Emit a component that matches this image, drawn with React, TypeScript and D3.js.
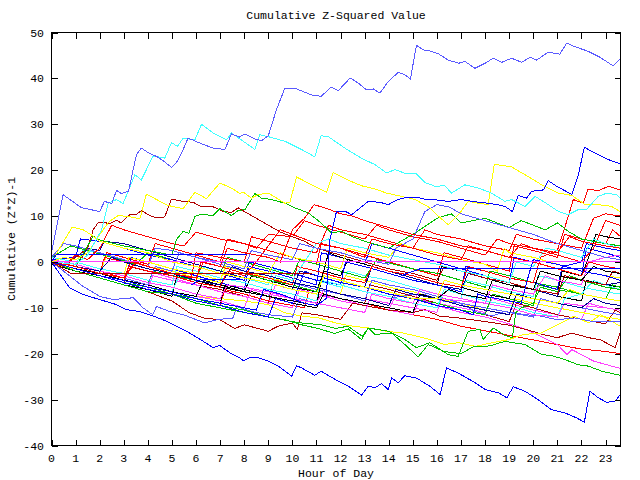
import React from "react";
import * as d3 from "d3";

type P = [number, number];

const xTicks = d3.range(0, 24);
const yTicks = [-40, -30, -20, -10, 0, 10, 20, 30, 40, 50];
const title = "Cumulative Z-Squared Value";
const xTitle = "Hour of Day";
const yTitle = "Cumulative (Z*Z)-1";

// outlier series
const topLightBlue: P[] = [[0,2],[0.48,14.65],[1.25,11.8],[2.0,11.0],[2.2,13.2],[2.5,12.7],[2.7,15.6],[2.9,14.9],[3.2,15.4],[3.36,19.4],[3.53,23.4],[3.73,24.8],[4.08,23.6],[4.36,23.0],[4.63,22.1],[4.98,20.6],[5.19,21.7],[5.4,23.7],[5.67,27.0],[6.16,25.9],[6.71,24.8],[7.2,24.5],[7.47,27.9],[7.8,27.2],[8.03,27.9],[8.44,26.8],[8.72,26.4],[9.0,27.5],[9.34,33.2],[9.69,37.9],[10.17,37.7],[10.8,36.4],[11.2,36.1],[11.6,38.1],[11.9,37.3],[12.4,40.1],[12.73,39.0],[13.08,37.5],[13.36,37.7],[13.63,36.8],[13.98,39.3],[14.39,41.3],[14.67,40.8],[14.9,39.9],[15.15,47.2],[15.43,46.2],[15.7,46.0],[16.05,45.4],[16.47,44.0],[16.9,43.3],[17.16,43.7],[17.58,42.2],[18.0,43.3],[18.34,44.4],[18.69,43.5],[19.1,44.4],[19.52,43.5],[19.86,44.6],[20.14,44.0],[20.62,45.7],[21.1,45.3],[21.39,47.7],[21.73,46.9],[22.28,45.9],[22.77,44.6],[23.32,42.7],[23.6,44.2]];
const topCyan: P[] = [[0,0],[1,-0.5],[1.5,1.5],[2.08,7.0],[2.35,12.8],[2.7,13.6],[2.97,12.7],[3.46,19.0],[3.73,17.9],[4.22,23.1],[4.7,22.6],[4.98,26.0],[5.23,25.2],[5.47,27.0],[5.95,26.6],[6.23,30.0],[6.71,28.1],[7.27,26.6],[7.47,28.1],[7.82,26.8],[8.1,25.8],[8.44,24.5],[8.65,27.7],[9.0,27.3],[9.69,26.3],[10.38,24.5],[10.93,22.9],[11.19,27.5],[11.49,27.3],[12.18,24.8],[12.87,22.6],[13.43,21.2],[13.91,19.4],[14.26,20.1],[14.74,19.2],[15.15,19.2],[15.5,17.3],[15.92,16.5],[16.33,16.6],[16.6,15.0],[17.16,16.8],[17.72,16.1],[18.27,15.0],[18.82,13.2],[19.1,13.6],[19.66,12.1],[20.07,14.3],[20.62,12.5],[21.04,11.0],[21.45,10.3],[21.87,11.4],[22.22,11.5],[22.7,14.3],[23.05,15.0],[23.46,14.6],[23.6,14.0]];
const topYellow: P[] = [[0,0],[0.5,1],[1,0.5],[1.5,2],[2.14,7.0],[2.4,8.8],[2.77,10.1],[3.18,9.9],[3.67,9.4],[3.94,14.8],[4.36,13.6],[4.84,12.3],[5.47,11.6],[5.95,15.2],[6.43,13.8],[6.99,17.2],[7.47,16.1],[7.82,14.9],[7.96,15.2],[8.3,13.9],[8.58,14.7],[9.0,15.0],[9.69,12.8],[9.9,13.0],[10.17,18.5],[10.93,16.5],[11.42,15.2],[11.69,19.5],[12.32,17.8],[12.87,16.6],[13.43,15.9],[13.91,15.0],[14.53,14.3],[15.09,13.6],[15.71,11.8],[15.99,10.3],[16.47,8.1],[16.9,10.3],[17.3,13.2],[17.72,12.8],[18.13,12.5],[18.38,21.3],[19.1,20.7],[19.66,19.0],[20.35,16.8],[21.04,15.0],[21.6,14.5],[22.15,12.5],[22.7,12.5],[23.25,12.1],[23.6,11.0]];
const riseBlue: P[] = [[0,0],[1,-1.5],[2,-3],[3,-4],[4,-5.5],[5,-6.5],[6,-8],[7,-9],[8,-10],[8.5,-10.5],[8.8,-6],[9.5,-7],[10,-8],[10.5,-9],[11,-9.5],[11.4,-8],[11.56,4.9],[11.83,11.0],[12.2,11.0],[12.46,10.3],[13.15,13.2],[13.63,13.0],[13.98,12.5],[14.39,13.6],[14.74,14.1],[15.15,14.1],[15.57,13.6],[16.0,13.5],[16.47,13.2],[17.02,13.6],[17.58,13.1],[18.13,12.8],[18.48,12.5],[18.82,12.1],[19.13,11.0],[19.38,14.5],[19.72,13.9],[19.93,15.4],[20.42,15.7],[20.62,17.7],[20.97,16.5],[21.6,14.7],[21.87,19.0],[22.12,25.0],[22.56,23.7],[23.12,22.3],[23.6,21.4]];
const bottomBlue: P[] = [[0,0],[0.76,-5.7],[1.31,-7.1],[2.0,-8.2],[2.7,-9.3],[3.11,-10.4],[3.67,-10.8],[4.22,-11.8],[4.63,-12.6],[5.19,-14.0],[5.74,-15.5],[6.3,-17.3],[6.71,-18.7],[6.99,-18.2],[7.4,-19.8],[7.82,-20.9],[7.96,-21.5],[8.23,-20.9],[8.58,-20.9],[9.0,-21.6],[9.41,-22.7],[9.97,-24.9],[10.17,-22.6],[10.38,-23.1],[10.93,-24.7],[11.19,-23.8],[11.74,-25.5],[12.32,-27.1],[12.87,-29.0],[13.15,-27.1],[13.43,-27.4],[13.7,-26.5],[13.98,-27.8],[14.12,-25.3],[14.39,-26.3],[14.67,-24.8],[15.15,-25.3],[15.71,-27.1],[16.13,-28.9],[16.4,-23.1],[16.88,-24.2],[17.58,-26.3],[18.0,-27.8],[18.55,-28.5],[18.9,-29.6],[19.17,-27.2],[19.66,-28.2],[20.2,-30.0],[20.76,-32.2],[21.32,-32.9],[21.8,-34.0],[22.12,-34.9],[22.35,-28.2],[22.7,-29.6],[23.05,-30.6],[23.4,-30.3],[23.6,-29.0]];

// bundle series
const red1: P[] = [[0,0.5],[1,-1],[2,-2.5],[2.3,2],[3,1],[4,-0.5],[4.3,4],[5,3],[6,1.5],[7,0],[7.3,5],[8,4],[9,2.5],[10,1],[11,-0.5],[11.2,4],[12,3],[13,1.5],[14,0],[15,-1.5],[16,-3],[16.3,2],[17,1],[18,-0.5],[19,-2],[19.2,3.5],[20,2.5],[21,1],[21.3,6],[22,5],[23,4],[23.3,7],[23.6,5.6]];
const green1: P[] = [[0,1],[0.8,3.5],[1.5,2.5],[2.5,1],[3.5,-0.5],[4,2],[5,0.5],[6,-1],[7,-2.5],[7.3,1],[8,0],[9,-1.5],[10,-3],[10.3,0.5],[11,-0.5],[12,-2],[13,-3.5],[13.5,0.5],[14,-0.2],[15,-1.5],[16,-2.5],[17,-4],[18,-5.5],[18.2,-2],[19,-3],[20,-4.5],[21,-5.5],[22,-7],[23,-8],[23.6,-8.5]];
const blue1: P[] = [[0,-0.5],[1,-2],[2,-3.5],[3,-5],[3.3,1],[4,0],[5,-1.5],[6,-3],[7,-4.5],[8,-6],[8.2,-1],[9,-2],[10,-3.5],[11,-5],[11.2,2],[12,1],[13,-0.5],[13.3,4],[14,3],[15,1.5],[16,0],[17,-1.5],[18,-3],[19,-4.5],[19.2,1],[20,0],[21,-1.5],[22,-3],[22.2,3],[23,2],[23.6,1]];
const magenta1: P[] = [[0,0],[1,-1.5],[2,-3],[3,-4.5],[4,-6],[4.2,-3],[5,-4],[6,-5],[7,-6.5],[8,-7.5],[9,-9],[9.3,-5],[10,-6],[11,-7],[12,-8.5],[13,-9.5],[14,-10.5],[14.3,-7],[15,-8],[16,-9],[17,-10],[18,-11],[18.3,-8],[19,-9],[20,-10.5],[21,-11.5],[22,-12.5],[22.3,-9],[23,-10],[23.6,-10.5]];
const cyan1: P[] = [[0,0.5],[1,-0.5],[1.3,2.5],[2,2],[3,0.5],[4,-1],[5,-2.5],[6,-4],[6.2,-1],[7,-2],[8,-3.5],[9,-5],[9.2,-1.5],[10,-2.5],[11,-4],[12,-5.5],[12.3,-2],[13,-3],[14,-4],[15,-5.5],[16,-7],[17,-8],[17.2,-4],[18,-5],[19,-6.5],[20,-7.5],[20.2,-3],[21,-4],[22,-5.5],[23,-6.5],[23.6,-7]];
const darkred1: P[] = [[0,0],[1,-1.5],[2,-3],[3,-4.5],[3.2,-1],[4,-2],[5,-3.5],[6,-5],[7,-6],[8,-7.5],[9,-9],[9.2,-4],[10,-5],[11,-6.5],[12,-8],[13,-9],[13.2,-5],[14,-6],[15,-7.5],[16,-9],[17,-10.5],[18,-11.5],[19,-13],[19.3,-9],[20,-10],[21,-11.5],[22,-12.5],[23,-13.5],[23.4,-10.5],[23.6,-11]];
const yellow1: P[] = [[0,-0.5],[1,-1.5],[2,-2.5],[2.3,1.5],[3,0.5],[4,-1],[5,-2],[6,-3.5],[7,-4.5],[7.2,-1],[8,-2],[9,-3.5],[10,-4.5],[11,-6],[12,-7],[12.2,-3],[13,-4],[14,-5.5],[15,-6.5],[16,-8],[17,-9],[18,-10.5],[19,-11.5],[19.2,-8],[20,-9],[21,-10],[22,-11],[23,-12],[23.6,-12.5]];
const black1: P[] = [[0,-0.5],[1,-2],[2,-3.5],[3,-5],[4,-6],[5,-7.5],[5.2,-3],[6,-4],[7,-5.5],[8,-6.5],[8.3,-3],[9,-4],[10,-5.5],[11,-6.5],[11.3,-2],[12,-3],[12.3,0.5],[13,-0.5],[14,-2],[15,-3.5],[16,-5],[16.2,-1],[17,-2],[18,-3.5],[19,-5],[20,-6],[21,-7.5],[22,-8.5],[22.2,-4],[23,-5],[23.6,-5.5]];
const lightblue1: P[] = [[0,1],[0.5,4],[1,3.5],[2,2],[3,0.5],[4,-1],[4.3,3],[5,2.5],[6,1],[7,-0.5],[8,-2],[9,-3],[10,-4.5],[11,-6],[12,-7],[13,-8.5],[13.3,-4],[14,-5],[15,-6],[16,-7.5],[17,-9],[18,-10],[19,-11],[20,-12],[20.3,-8],[21,-9],[22,-10],[23,-11],[23.6,-11.5]];
const darkblue1: P[] = [[0,0],[1,-1],[1.5,3],[2,2.5],[2.2,4.5],[3,4],[4,2.5],[5,1],[6,-0.5],[7,-2],[8,-3.5],[9,-4.5],[10,-6],[10.3,-2],[11,-3],[12,-4.5],[13,-5.5],[13.3,-1],[14,-2],[15,-3.5],[16,-5],[17,-6],[17.3,-2.5],[18,-3.5],[19,-5],[20,-6],[21,-7.5],[21.3,-3],[22,-4],[23,-5],[23.6,-4.5]];
const red2: P[] = [[0,0],[1,-1.5],[2,-3],[3,-4],[4,-5.5],[5,-7],[6,-8],[7,-9.5],[7.2,-6],[8,-7],[9,-8.5],[10,-9.5],[10.5,-10],[10.7,-6],[11,-6.5],[12,-8],[13,-9],[14,-10.5],[15,-11.5],[16,-12.5],[17,-14],[18,-15],[19,-16],[20,-17],[21,-18],[22,-19],[23,-19.5],[23.6,-20]];
const green2: P[] = [[0,0.5],[1,-0.5],[2,-2],[3,-3.5],[4,-5],[4.2,-2],[5,-3],[6,-4],[6.3,0],[7,-1],[8,-2.5],[9,-4],[10,-5],[11,-6.5],[11.3,-3],[12,-4],[13,-5.5],[14,-6.5],[15,-8],[16,-9],[17,-10.5],[18,-11.5],[18.3,-7],[19,-8],[20,-9.5],[20.2,-5],[21,-6],[22,-7],[23,-8],[23.3,-5],[23.6,-5.5]];
const blue2: P[] = [[0,0.5],[1,1],[1.2,5],[2,4.5],[3,3],[4,1.5],[5,0.5],[6,-1],[7,-2.5],[8,-4],[8.2,0],[9,-1],[10,-2.5],[11,-4],[12,-5],[12.2,0],[13,-1],[14,-2.5],[15,-4],[16,-5],[17,-6.5],[17.2,-1],[18,-2],[19,-3.5],[20,-4.5],[21,-6],[21.2,-1],[22,0],[22.2,4],[23,3],[23.6,2.5]];
const magenta2: P[] = [[0,0],[1,-1],[2,-2.5],[3,-4],[3.3,-1],[4,-2],[5,-3.5],[6,-5],[7,-6.5],[8,-7.5],[9,-9],[10,-10],[10.3,-6],[11,-7],[12,-8],[13,-9.5],[14,-10.5],[15,-11.5],[15.3,-8],[16,-9.5],[17,-11],[18,-12],[19,-13.5],[19.7,-14.7],[20.3,-16.2],[21,-18],[21.4,-20.2],[21.6,-19.1],[22.5,-21.6],[23.6,-23.2]];
const cyan2: P[] = [[0,1],[1,0],[2,-1.5],[3,-2.5],[4,-4],[5,-5],[5.2,-1],[6,-2],[7,-3.5],[8,-4.5],[9,-6],[10,-7],[11,-8.5],[11.2,-4],[12,-5],[13,-6.5],[14,-7.5],[15,-9],[16,-10],[16.3,-6],[17,-7],[18,-8.5],[19,-9.5],[20,-11],[21,-12],[21.3,-8],[22,-7],[22.5,-4],[23,-5],[23.6,-6]];
const darkred2: P[] = [[0,0],[1,-2],[2,-3.5],[3,-5],[4,-6.5],[5,-8.5],[5.7,-11],[6.3,-12.2],[7,-12.6],[7.6,-14.5],[8,-13.7],[9,-15.1],[9.4,-14],[10,-13.3],[10.2,-14.7],[10.4,-11.1],[11,-11.5],[12,-12.5],[12.5,-9],[13,-9.5],[14,-10.5],[15,-11],[15.5,-10.4],[16.1,-11.8],[16.9,-12.2],[18,-13],[18.9,-13.7],[19.7,-14.7],[20.4,-15.8],[21,-16.5],[21.6,-15.5],[22.3,-16.5],[22.8,-17],[23.4,-18.7],[23.6,-15.5]];
const yellow2: P[] = [[0,0],[1,-1.5],[2,-2.5],[3,-4],[4,-5],[5,-6.5],[6,-7.5],[7,-8],[8,-8.5],[9,-9.3],[9.7,-11.1],[10.4,-11.8],[11.1,-12.2],[11.8,-13.3],[12.5,-14],[13.2,-14.4],[13.9,-15.1],[14.6,-15.5],[15.2,-16.2],[15.7,-16.9],[16.3,-18],[16.9,-17.6],[17.6,-18.4],[18.3,-17.6],[19,-16.9],[19.6,-15.8],[20.3,-15.5],[21,-13.7],[21.7,-11.8],[22.3,-13.3],[22.8,-11.5],[23.6,-14]];
const black2: P[] = [[0,-0.5],[1,-2],[2,-3],[3,-4.5],[4,-5.5],[5,-7],[6,-8],[7,-9],[7.2,-5],[8,-6],[9,-7.5],[10,-8.5],[11,-9.5],[11.2,-4],[11.5,2],[12,1],[13,-0.5],[14,-2],[15,-3],[16,-4.5],[17,-5.5],[18,-7],[19,-8],[19.2,-5],[20,-6],[21,-7],[21.2,-2],[22,-3],[22.3,1],[22.6,6],[23,5.5],[23.6,5]];
const lightblue2: P[] = [[0,0],[0.5,-2],[1.3,-5.3],[2,-7.5],[2.56,-8.2],[3.4,-7.8],[3.8,-10],[4.2,-11.5],[4.36,-9.7],[4.9,-10.8],[5.47,-11.5],[6.37,-13.3],[6.85,-12.6],[7.54,-12.2],[7.7,-9.7],[8.3,-10.8],[9,-11.5],[10,-12],[10.3,-8],[11,-9],[12,-10],[13,-11],[13.3,-7],[14,-8],[15,-7],[15.5,-7.1],[16.3,-8.6],[16.9,-8.9],[17.6,-10.8],[18.3,-11.8],[18.8,-10.8],[19.7,-11.5],[20.3,-11.8],[21,-12.6],[21.7,-12.2],[22.4,-12.9],[23.6,-12.9]];
const red3: P[] = [[0,0],[1,-1],[2,-2.5],[2.2,1],[3,0],[4,-1.5],[5,-2.5],[6,-4],[6.2,0],[7,-1],[8,-2.5],[9,-3.5],[10,-5],[10.2,-1],[11,-2],[12,-3.5],[13,-4.5],[13.3,-1],[14,-2],[15,-3],[16,-4.5],[17,-5.5],[17.3,-1],[18,-2],[19,-3.5],[20,-4.5],[20.3,1],[21,2.5],[21.3,7.4],[21.45,9.9],[21.66,13.6],[22.07,12.8],[22.28,15.9],[22.7,15.5],[23.12,16.5],[23.6,15.7]];
const green3: P[] = [[0,0],[1,-1.5],[2,-3],[3,-4.5],[4,-5.5],[5,-7],[6,-8],[7,-9.5],[8,-10.5],[9,-12],[10,-13],[10.4,-13.3],[11.2,-13.7],[11.8,-14.5],[12.3,-14],[12.9,-16.2],[13.15,-14.4],[14,-15.1],[14.67,-16.9],[15.15,-18.7],[15.7,-17.6],[16.47,-20.2],[16.88,-20.6],[17.3,-15.1],[17.78,-14.7],[17.92,-16.9],[18.34,-14.4],[18.82,-16],[19.13,-16.5],[19.27,-11.1],[19.5,-10],[20,-9],[20.3,-5.5],[21,-6.5],[21.5,-3],[22,-4],[23,-5.5],[23.6,-6]];
const green4: P[] = [[0,0],[1,-2],[2,-3.5],[3,-5],[4,-6.5],[5,-7],[6,-9],[7,-10],[8,-11],[9,-12],[9.69,-12.6],[10.38,-13.7],[11.07,-14.5],[11.76,-15.6],[12.32,-14.6],[12.87,-16.9],[13.15,-14.4],[13.43,-15.8],[14.12,-15.5],[14.67,-18],[15.22,-20.7],[15.64,-18],[16.3,-19.5],[17,-20],[17.5,-18.5],[18.2,-18.3],[18.82,-17.3],[19.66,-18],[20.35,-20.2],[20.76,-20.4],[21.32,-21.3],[21.87,-22.4],[22.28,-22.7],[22.84,-23.8],[23.6,-24.7]];
const red4: P[] = [[0,0],[0.5,-1],[1,1.5],[1.5,0.5],[2,3],[2.5,8],[3,7],[4,5.5],[5,4],[5.5,3.5],[6,6.5],[7,5],[8,4],[8.5,3],[9,6],[10,5.5],[10.5,9],[11,8],[12,6.5],[13,5],[13.5,8],[14,7],[15,5.5],[16,4.5],[17,3],[18,1.5],[18.5,5],[19,4],[20,3],[21,1.5],[22,0],[22.5,3],[23,9],[23.6,8]];
const red5: P[] = [[0,0],[1,-1],[2,-2],[3,-3.5],[3.3,0],[4,-1],[5,-2.5],[5.8,-3.5],[6,2],[7,1],[8,0],[8.3,5.5],[9,4.5],[10,3],[11,2],[11.5,8],[12,7],[13,6],[14,4.5],[15,3],[15.5,7],[16,6],[17,5],[18,3.5],[19,2.5],[19.3,6],[20,5],[21,4],[22,3],[22.5,9.5],[23,10.5],[23.6,10]];
const darkred3: P[] = [[0,0],[0.5,-1],[1,1],[1.5,3],[1.73,7],[1.94,8.6],[2.21,8.6],[2.4,8.3],[2.7,9.1],[2.88,8.5],[3.25,10.3],[3.5,10.3],[3.73,11.2],[4.08,10.1],[4.36,9.6],[4.7,9.8],[4.98,13.7],[5.47,13.2],[5.88,13],[6.23,12],[6.71,12],[7.13,11],[7.47,10.8],[7.75,11.8],[8,11],[8.5,9.5],[9,8],[9.5,6.5],[10,5.5],[10.5,4.5],[11,3],[12,1.5],[13,0],[14,-1.5],[15,-2.5],[16,-4],[16.3,-1],[17,-2],[18,-3.5],[19,-4.5],[20,-6],[21,-7],[21.3,-3],[22,-4],[23,-5],[23.3,-2],[23.6,-2.5]];
const green5: P[] = [[0,0],[1,-1],[1.73,5.6],[2,4.8],[3,3.5],[4,2.5],[5,1.5],[5.19,4.9],[5.47,6.7],[5.7,6.2],[5.95,9.9],[6.23,10.4],[6.71,10.1],[6.99,11.6],[7.47,10.1],[7.75,11.2],[8.03,11.4],[8.44,14.9],[8.72,13.9],[9.13,13.6],[9.69,12.8],[10.1,11.8],[10.66,10.7],[11.19,8.5],[11.63,6.3],[12.03,6.7],[12.5,5.5],[13,4.5],[14,3],[15,6],[16,9.5],[16.6,10.5],[17,8.5],[18,9.5],[18.5,8.5],[19,7.5],[19.5,9],[20,8],[20.5,7],[21,8.5],[21.5,6.5],[22,5],[23,4],[23.6,3.5]];
const cyan3: P[] = [[0,0],[1,-1.5],[2,-3],[3,-4],[4,-5.5],[5,-6.5],[5.3,-3],[6,-4],[7,-5],[8,-6.5],[9,-7.5],[9.3,-3],[10,-4],[10.5,0],[11,4],[11.5,5],[12,4],[13,3],[14,1.5],[15,0.5],[16,-0.5],[17,-2],[18,-3],[19,-4.5],[19.3,0],[20,-1],[20.5,3],[21,2.5],[22,1],[22.5,5],[23,4],[23.6,3]];
const yellow3: P[] = [[0,0],[1,-0.5],[2,-2],[3,-3],[3.2,1],[4,0],[5,-1.5],[6,-2.5],[7,-4],[7.3,0],[8,-1],[9,-2.5],[9.5,2],[10,1],[11,0],[12,-1.5],[12.3,3],[13,2],[14,1],[14.5,4],[15,3],[16,2],[17,0.5],[18,-0.5],[18.5,-2],[18.8,3],[19,2],[20,1],[21,-0.5],[22,-2],[23,-3],[23.6,-3.5]];
const magenta3: P[] = [[0,0.5],[1,-0.5],[2,-2],[3,-3],[4,-4.5],[5,-5.5],[6,-7],[7,-8],[7.3,-5],[8,-5.5],[9,-6.5],[10,-8],[11,-9],[11.3,-6],[12,-7],[13,-8],[14,-9],[15,-10],[16,-11],[16.2,-8],[17,-8.5],[18,-9],[19,-10],[20,-11.5],[21,-12],[21.3,-9],[22,-9.5],[23,-10],[23.6,-10.5]];
const magenta4: P[] = [[0,0],[1,-1.5],[2,-2.5],[3,-4],[4,-5],[5,-6.5],[6,-7.5],[7,-8.5],[8,-10],[8.3,-6],[9,-7],[10,-8],[11,-9],[12,-10],[13,-11],[13.3,-7],[14,-8],[15,-9],[15.3,-6],[16,-7],[17,-8],[18,-9],[18.3,-5],[19,-6],[20,-7],[20.5,-3],[21,-4],[22,-5],[22.3,0],[23,1],[23.6,1.5]];
const black3: P[] = [[0,0],[1,-1.5],[2,-2.5],[3,-4],[4,-5],[5,-6.5],[6,-7.5],[6.3,-4],[7,-5],[8,-6.5],[9,-7.5],[10,-9],[11,-10],[11.3,-7],[12,-8],[13,-9],[14,-10],[15,-11],[15.3,-7],[16,-8],[16.5,-6],[17,-7],[18,-8],[18.3,-4],[19,-5],[20,-6],[20.3,-2],[21,-3],[22,-4],[22.5,-1],[23,-2],[23.6,-2.5]];
const blue3: P[] = [[0,0],[1,-1.5],[2,-3],[3,-4.5],[4,-6],[5,-7],[6,-8.5],[7,-9.5],[8,-11],[9,-12],[9.3,-8],[10,-9],[10.5,-2],[11,-3],[12,-4.5],[13,-5.5],[14,-7],[15,-8],[16,-9.5],[17,-10.5],[17.5,-11.5],[17.7,-7],[18,-7.5],[19,-8.5],[19.5,-9],[19.8,-3],[20,0.5],[21,-0.5],[22,-2],[23,-3],[23.6,-4]];
const lightblue3: P[] = [[0,0],[1,-1],[2,-2.5],[3,-3.5],[4,-5],[4.3,-1],[5,-2],[5.3,2],[6,1],[7,0],[8,-1.5],[8.3,2.5],[9,1.5],[10,0.5],[10.3,4],[11,3],[12,2],[13,0.5],[14,-0.5],[14.3,3],[15,5],[15.5,11],[16,12.5],[16.5,12],[17,10.5],[18,9],[19,7.5],[20,6],[20.5,5],[21,4],[22,2.5],[23,1],[23.6,0.5]];
const darkblue2: P[] = [[0,0],[1,-1],[2,-2],[2.5,1],[3,0],[4,-1.5],[5,-2.5],[6,-4],[7,-5],[7.5,-1],[8,-2],[9,-3],[10,-4.5],[11,-5.5],[12,-7],[13,-8],[14,-9.5],[14.3,-6],[15,-7],[16,-8],[17,-9.5],[18,-10.5],[19,-11.5],[19.3,-7],[20,-8],[21,-9],[22,-10],[22.5,-8],[23,-9],[23.6,-9.5]];
const red6: P[] = [[0,0],[1,-1.5],[2,-3],[3,-4],[3.3,-1],[4,-2],[5,-3],[6,-4.5],[7,-5.5],[7.3,-2],[8,-3],[8.5,0],[9,3.5],[9.5,7],[10,6],[10.5,5],[11,4],[12,3],[12.5,2],[13,1],[13.3,5],[14,4],[15,3],[16,1.5],[17,0.5],[17.3,3.5],[18,2.5],[19,1],[20,0],[21,-1.5],[22,-3],[22.3,0],[23,-1],[23.6,-1.5]];
const red7: P[] = [[0,0],[1,-1],[2,-2.5],[3,-3.5],[3.5,0],[4,-1],[5,-2.5],[6,-3.5],[6.3,0],[7,-1],[7.3,3],[8,2],[9,1],[9.5,0],[10,7],[10.5,9.5],[10.9,12.5],[11.5,11.5],[12,10.5],[12.5,10],[13,9],[14,7.5],[15,6],[16,5],[17,3.5],[18,2.5],[19,1],[19.5,4],[20,3],[21,2],[21.5,5.5],[22,4.5],[23,3.5],[23.6,3]];
const yellow4: P[] = [[0,0],[0.86,7.6],[1.31,7],[1.66,5.9],[2,4.5],[3,3],[4,2],[4.5,1],[5,0],[6,-1],[7,-2.5],[8,-3.5],[9,-4.5],[10,-6],[11,-7],[11.3,-3],[12,-4],[13,-5.5],[14,-6.5],[15,-8],[16,-8],[16.3,-4],[17,-5],[18,-6],[19,-7],[20,-8],[21,-9],[21.5,-6],[22,-7],[23,-8],[23.6,-8.5]];

// flat (constant) series
const flatBlue1: P[] = [[0,0],[0.2,1.6],[8.1,1.6]];
const flatMagenta: P[] = [[0,0],[23.6,0]];
const flatBlue2: P[] = [[0,0.2],[23.6,0.2]];
const flatDarkRed: P[] = [[0,0],[0.8,-2.5],[10.8,-2.5]];
const flatBlue3: P[] = [[14.5,-3],[15.3,-1.5],[23.6,-1.5]];
const flatBlue4: P[] = [[5.8,-5],[6.2,-3.8],[7.9,-3.8]];

const COLORS: Record<string, string> = {
  red: "#ff0000",
  green: "#00c000",
  blue: "#0000ff",
  magenta: "#ff40ff",
  cyan: "#40ffff",
  darkred: "#b00000",
  yellow: "#ffff00",
  black: "#000000",
  lightblue: "#5a5aff",
  darkblue: "#000090",
};

const SERIES: { pts: P[]; c: string }[] = [
  { pts: red1, c: "red" }, { pts: green1, c: "green" }, { pts: blue1, c: "blue" },
  { pts: magenta1, c: "magenta" }, { pts: cyan1, c: "cyan" }, { pts: darkred1, c: "darkred" },
  { pts: yellow1, c: "yellow" }, { pts: black1, c: "black" }, { pts: lightblue1, c: "lightblue" },
  { pts: darkblue1, c: "darkblue" }, { pts: red2, c: "red" }, { pts: green2, c: "green" },
  { pts: blue2, c: "blue" }, { pts: magenta2, c: "magenta" }, { pts: cyan2, c: "cyan" },
  { pts: darkred2, c: "darkred" }, { pts: yellow2, c: "yellow" }, { pts: black2, c: "black" },
  { pts: lightblue2, c: "lightblue" }, { pts: red3, c: "red" }, { pts: green3, c: "green" },
  { pts: green4, c: "green" }, { pts: red4, c: "red" }, { pts: red5, c: "red" },
  { pts: darkred3, c: "darkred" }, { pts: green5, c: "green" }, { pts: cyan3, c: "cyan" },
  { pts: yellow3, c: "yellow" }, { pts: magenta3, c: "magenta" }, { pts: magenta4, c: "magenta" },
  { pts: black3, c: "black" }, { pts: blue3, c: "blue" }, { pts: lightblue3, c: "lightblue" },
  { pts: darkblue2, c: "darkblue" }, { pts: red6, c: "red" }, { pts: red7, c: "red" },
  { pts: yellow4, c: "yellow" },
  { pts: flatDarkRed, c: "darkred" }, { pts: flatBlue1, c: "blue" }, { pts: flatBlue3, c: "blue" },
  { pts: flatBlue4, c: "blue" }, { pts: flatBlue2, c: "blue" }, { pts: flatMagenta, c: "magenta" },
  { pts: topYellow, c: "yellow" }, { pts: riseBlue, c: "blue" }, { pts: bottomBlue, c: "blue" },
  { pts: topCyan, c: "cyan" }, { pts: topLightBlue, c: "lightblue" },
];

const W = 640, H = 480;
const L = 51.5, R = 620.5, T = 32.5, B = 445.5;
const FONT = "'Liberation Mono', 'DejaVu Sans Mono', monospace";

export default function App() {
  const x = d3.scaleLinear().domain([0, 23.62]).range([L, R]);
  const y = d3.scaleLinear().domain([-40, 50]).range([B, T]);
  const line = d3.line<P>().x((d) => x(d[0])).y((d) => y(d[1]));
  const tl = 6;
  return (
    <svg width={W} height={H} style={{ position: "absolute", left: 0, top: 0, background: "#fff" }}>
      <rect x={0} y={0} width={W} height={H} fill="#fff" />
      <defs>
        <clipPath id="plot">
          <rect x={L} y={T} width={R - L} height={B - T} />
        </clipPath>
      </defs>
      <g clipPath="url(#plot)">
        {SERIES.map((s, i) => (
          <path key={i} d={line(s.pts) || ""} fill="none" stroke={COLORS[s.c]} strokeWidth={1} shapeRendering="crispEdges" />
        ))}
      </g>
      <g stroke="#000" strokeWidth={1} shapeRendering="crispEdges">
        <rect x={L} y={T} width={R - L} height={B - T} fill="none" />
        {xTicks.map((t) => (
          <g key={"x" + t}>
            <line x1={Math.round(x(t)) + 0.5} x2={Math.round(x(t)) + 0.5} y1={B} y2={B - tl} />
            <line x1={Math.round(x(t)) + 0.5} x2={Math.round(x(t)) + 0.5} y1={T} y2={T + tl} />
          </g>
        ))}
        {yTicks.map((t) => (
          <g key={"y" + t}>
            <line x1={L} x2={L + tl} y1={Math.round(y(t)) + 0.5} y2={Math.round(y(t)) + 0.5} />
            <line x1={R} x2={R - tl} y1={Math.round(y(t)) + 0.5} y2={Math.round(y(t)) + 0.5} />
          </g>
        ))}
      </g>
      <g fontFamily={FONT} fontSize={11.5} fill="#000">
        {xTicks.map((t) => (
          <text key={"xl" + t} x={x(t)} y={462} textAnchor="middle">{t}</text>
        ))}
        {yTicks.map((t) => (
          <text key={"yl" + t} x={44} y={y(t) + 4} textAnchor="end">{t}</text>
        ))}
        <text x={336} y={19} textAnchor="middle">{title}</text>
        <text x={336} y={477} textAnchor="middle">{xTitle}</text>
        <text transform={`translate(15,${(T + B) / 2}) rotate(-90)`} textAnchor="middle">{yTitle}</text>
      </g>
    </svg>
  );
}
